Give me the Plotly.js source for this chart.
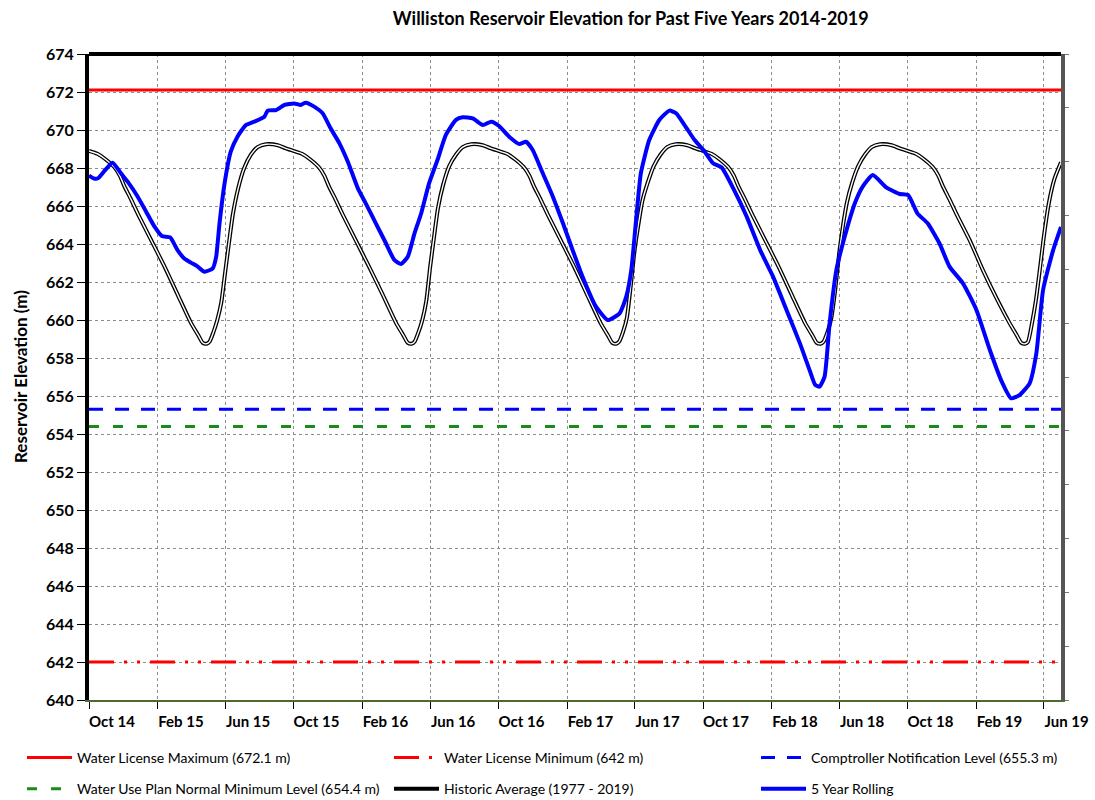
<!DOCTYPE html>
<html>
<head>
<meta charset="utf-8">
<script src="https://cdn.plot.ly/plotly-3.0.1.min.js"></script>
<style>html,body{margin:0;padding:0;background:#fff;}#chart{width:1095px;height:800px;}</style>
</head>
<body>
<div id="chart"></div>
<script>
// ---------------- DATA ----------------
const xRange = ['2014-10-01', '2019-07-02'];

const tickDates = ['2014-10-01','2015-02-01','2015-06-01','2015-10-01','2016-02-01','2016-06-01','2016-10-01',
  '2017-02-01','2017-06-01','2017-10-01','2018-02-01','2018-06-01','2018-10-01','2019-02-01','2019-06-01'];
const tickLabels = ['Oct 14','Feb 15','Jun 15','Oct 15','Feb 16','Jun 16','Oct 16',
  'Feb 17','Jun 17','Oct 17','Feb 18','Jun 18','Oct 18','Feb 19','Jun 19'];

const yTitle = 'Reservoir Elevation (m)';
const chartTitle = 'Williston Reservoir Elevation for Past Five Years 2014-2019';

const licenseMax = 672.1;
const licenseMin = 642;
const comptrollerLevel = 655.3;
const wupMinLevel = 654.4;

const histDates = [
  '2014-10-01','2014-10-16','2014-10-31','2014-11-15','2014-11-25','2014-12-03','2014-12-15','2014-12-27',
  '2015-01-20','2015-02-13','2015-03-08','2015-04-01','2015-04-14','2015-04-22','2015-04-29','2015-05-04',
  '2015-05-11','2015-05-18','2015-05-25','2015-06-01','2015-06-08','2015-06-15','2015-06-24','2015-07-05',
  '2015-07-17','2015-07-29','2015-08-13','2015-09-03','2015-09-16',
  '2015-10-01','2015-10-16','2015-10-31','2015-11-15','2015-11-25','2015-12-03','2015-12-15','2015-12-27',
  '2016-01-20','2016-02-13','2016-03-08','2016-04-01','2016-04-14','2016-04-22','2016-04-29','2016-05-04',
  '2016-05-11','2016-05-18','2016-05-25','2016-06-01','2016-06-08','2016-06-15','2016-06-24','2016-07-05',
  '2016-07-17','2016-07-29','2016-08-13','2016-09-03','2016-09-16',
  '2016-10-01','2016-10-16','2016-10-31','2016-11-15','2016-11-25','2016-12-03','2016-12-15','2016-12-27',
  '2017-01-20','2017-02-13','2017-03-08','2017-04-01','2017-04-14','2017-04-22','2017-04-29','2017-05-04',
  '2017-05-11','2017-05-18','2017-05-25','2017-06-01','2017-06-08','2017-06-15','2017-06-24','2017-07-05',
  '2017-07-17','2017-07-29','2017-08-13','2017-09-03','2017-09-16',
  '2017-10-01','2017-10-16','2017-10-31','2017-11-15','2017-11-25','2017-12-03','2017-12-15','2017-12-27',
  '2018-01-20','2018-02-13','2018-03-08','2018-04-01','2018-04-14','2018-04-22','2018-04-29','2018-05-04',
  '2018-05-11','2018-05-18','2018-05-25','2018-06-01','2018-06-08','2018-06-15','2018-06-24','2018-07-05',
  '2018-07-17','2018-07-29','2018-08-13','2018-09-03','2018-09-16',
  '2018-10-01','2018-10-16','2018-10-31','2018-11-15','2018-11-25','2018-12-03','2018-12-15','2018-12-27',
  '2019-01-20','2019-02-13','2019-03-08','2019-04-01','2019-04-14','2019-04-22','2019-04-29','2019-05-04',
  '2019-05-11','2019-05-18','2019-05-25','2019-06-01','2019-06-10','2019-06-20','2019-07-02'
];
const histValues = [
  668.9,668.75,668.45,668.05,667.6,667.05,666.35,665.6,
  664.2,662.8,661.35,659.85,659.2,658.8,658.75,658.85,
  659.35,660.0,660.9,662.5,664.1,665.6,666.9,668.0,
  668.7,669.1,669.25,669.2,669.05,
  668.9,668.75,668.45,668.05,667.6,667.05,666.35,665.6,
  664.2,662.8,661.35,659.85,659.2,658.8,658.75,658.85,
  659.35,660.0,661.0,662.8,664.4,665.9,667.1,668.1,
  668.7,669.1,669.25,669.2,669.05,
  668.9,668.75,668.45,668.05,667.6,667.05,666.35,665.6,
  664.2,662.8,661.35,659.85,659.2,658.8,658.75,658.85,
  659.35,660.1,661.8,663.7,665.1,666.3,667.2,668.1,
  668.7,669.1,669.25,669.2,669.05,
  668.9,668.75,668.45,668.05,667.6,667.05,666.35,665.6,
  664.2,662.8,661.35,659.85,659.2,658.8,658.75,658.85,
  659.35,660.1,661.6,663.5,665.0,666.2,667.2,668.1,
  668.7,669.1,669.25,669.2,669.05,
  668.9,668.75,668.45,668.05,667.6,667.05,666.35,665.6,
  664.2,662.6,661.2,659.85,659.2,658.8,658.75,658.85,
  659.8,661.0,662.6,664.3,666.1,667.4,668.3
];

const rollDates = [
  '2014-10-01','2014-10-10','2014-10-17','2014-10-29','2014-11-12','2014-11-27','2014-12-09','2014-12-27',
  '2015-01-11','2015-01-26','2015-02-08','2015-02-23','2015-03-08','2015-03-20','2015-04-01','2015-04-13',
  '2015-04-25','2015-05-10','2015-05-16','2015-05-22','2015-05-31','2015-06-11','2015-06-23','2015-07-08',
  '2015-07-23','2015-08-10','2015-08-16','2015-08-31','2015-09-15','2015-10-02','2015-10-14','2015-10-23',
  '2015-11-07','2015-11-22','2015-12-06','2015-12-22','2016-01-06','2016-01-24','2016-02-07','2016-02-25',
  '2016-03-14','2016-03-29','2016-04-10','2016-04-22','2016-05-04','2016-05-16','2016-05-30','2016-06-14',
  '2016-06-29','2016-07-17','2016-07-29','2016-08-16','2016-09-03','2016-09-18','2016-10-02','2016-10-20',
  '2016-11-07','2016-11-19','2016-12-01','2016-12-19','2017-01-06','2017-01-24','2017-02-10','2017-02-28',
  '2017-03-24','2017-04-14','2017-05-05','2017-05-17','2017-05-26','2017-06-03','2017-06-12','2017-06-27',
  '2017-07-15','2017-08-02','2017-08-14','2017-08-29','2017-09-16','2017-10-04','2017-10-19','2017-11-03',
  '2017-11-24','2017-12-18','2018-01-11','2018-02-03','2018-02-27','2018-03-23','2018-04-10','2018-04-19',
  '2018-04-27','2018-05-06','2018-05-15','2018-05-27','2018-06-11','2018-06-29','2018-07-13','2018-07-31',
  '2018-08-24','2018-09-17','2018-10-02','2018-10-19','2018-11-06','2018-11-27','2018-12-15','2019-01-08',
  '2019-02-01','2019-02-25','2019-03-17','2019-04-04','2019-04-19','2019-05-07','2019-05-19','2019-05-31',
  '2019-06-18','2019-07-02'
];
const rollValues = [
  667.6,667.45,667.46,667.86,668.28,667.72,667.28,666.49,
  665.7,664.91,664.42,664.35,663.68,663.24,663.02,662.81,
  662.54,662.72,663.33,665.09,667.19,668.86,669.65,670.26,
  670.44,670.7,671.02,671.05,671.32,671.4,671.32,671.44,
  671.23,670.88,670.1,669.3,668.33,666.93,666.14,665.09,
  664.04,663.16,662.95,663.33,664.56,665.62,667.19,668.42,
  669.74,670.53,670.67,670.61,670.26,670.44,670.21,669.65,
  669.26,669.38,668.95,667.72,666.49,665.09,663.7,662.28,
  660.7,660.0,660.35,661.23,662.63,665.09,667.72,669.47,
  670.53,671.02,670.88,670.26,669.47,668.86,668.25,668.04,
  666.93,665.44,663.68,662.28,660.53,658.77,657.3,656.6,
  656.49,657.02,659.83,662.63,664.39,666.14,667.02,667.63,
  666.98,666.63,666.58,665.6,665.09,664.04,662.81,661.93,
  660.53,658.42,656.84,655.88,656.05,656.67,658.25,661.58,
  663.68,664.9
];

// ---------------- CHART ----------------
const FONT = 'Lato, "Open Sans", "DejaVu Sans", sans-serif';

const traces = [
  {x: xRange, y: [licenseMax, licenseMax], mode: 'lines', name: 'Water License Maximum (672.1 m)',
   line: {color: '#ff0000', width: 3}, legend: 'legend', legendgroup: 'a', legendrank: 1},
  {x: xRange, y: [wupMinLevel, wupMinLevel], mode: 'lines', name: 'Water Use Plan Normal Minimum Level (654.4 m)',
   line: {color: '#1a8a1a', width: 3, dash: '10px,14px'}, legend: 'legend', legendgroup: 'b', legendrank: 2},
  {x: xRange, y: [licenseMin, licenseMin], mode: 'lines', name: 'Water License Minimum (642 m)',
   line: {color: '#ff0000', width: 3, dash: '25px,10px,3px,10px,3px,10px'}, legend: 'legend2', legendgroup: 'c', legendrank: 1},
  {x: xRange, y: [comptrollerLevel, comptrollerLevel], mode: 'lines', name: 'Comptroller Notification Level (655.3 m)',
   line: {color: '#0000ff', width: 3, dash: '14px,12px'}, legend: 'legend3', legendgroup: 'e', legendrank: 1},
  {x: histDates, y: histValues, mode: 'lines', name: 'Historic Average (1977 - 2019)',
   line: {color: '#000000', width: 4, shape: 'spline', smoothing: 0.6}, legend: 'legend2', legendgroup: 'd', legendrank: 2},
  {x: histDates, y: histValues, mode: 'lines', showlegend: false, hoverinfo: 'skip',
   line: {color: '#ffffff', width: 1.4, shape: 'spline', smoothing: 0.6}},
  {x: rollDates, y: rollValues, mode: 'lines', name: '5 Year Rolling',
   line: {color: '#0000ff', width: 4, shape: 'spline', smoothing: 0.5}, legend: 'legend3', legendgroup: 'f', legendrank: 2},
  {x: [], y: [], yaxis: 'y2', showlegend: false, hoverinfo: 'skip', mode: 'lines'}
];

const legendBase = {
  xref: 'container', yref: 'container', xanchor: 'left', yanchor: 'top',
  orientation: 'v', traceorder: 'grouped', tracegroupgap: 10, itemwidth: 45,
  font: {family: FONT, size: 14, color: '#000'}, bgcolor: 'rgba(0,0,0,0)', borderwidth: 0
};

const layout = {
  width: 1095, height: 800,
  paper_bgcolor: '#ffffff', plot_bgcolor: '#ffffff',
  margin: {l: 89, r: 34, t: 54, b: 100, autoexpand: false},
  font: {family: FONT, color: '#000'},
  showlegend: true,
  title: {text: chartTitle,
          font: {family: FONT, size: 18, weight: 'bold', color: '#000'},
          xref: 'container', x: 0.576, xanchor: 'center', yref: 'container', y: 0.977, yanchor: 'middle'},
  xaxis: {type: 'date', range: xRange, tickmode: 'array', tickvals: tickDates, ticktext: tickLabels,
          ticks: 'outside', ticklen: 7, tickwidth: 1, tickcolor: '#000',
          showgrid: true, gridcolor: '#8c8c8c', griddash: 'dot', gridwidth: 1,
          showline: true, linecolor: '#4e6b30', linewidth: 2, zeroline: false,
          ticklabelshift: 23, tickangle: 0, automargin: false,
          tickfont: {family: FONT, size: 15, weight: 'bold', color: '#000'}},
  yaxis: {range: [640, 674], tick0: 640, dtick: 2, ticks: 'outside', ticklen: 8, tickwidth: 1, tickcolor: '#000',
          showgrid: true, gridcolor: '#8c8c8c', griddash: 'dot', gridwidth: 1,
          showline: true, linecolor: '#000', linewidth: 4, zeroline: false, automargin: false,
          tickfont: {family: FONT, size: 16, weight: 'bold', color: '#000'}},
  yaxis2: {overlaying: 'y', side: 'right', range: [0, 12], dtick: 1, ticks: 'outside', ticklen: 4,
           tickcolor: '#777', showticklabels: false, showgrid: false, zeroline: false, automargin: false,
           showline: true, linecolor: '#555', linewidth: 4},
  annotations: [
    {text: yTitle, xref: 'paper', yref: 'paper', x: -69/972, y: 0.5, xanchor: 'center', yanchor: 'middle',
     textangle: -90, showarrow: false, font: {family: FONT, size: 17, weight: 'bold', color: '#000'}}
  ],
  shapes: [
    {type: 'line', xref: 'paper', yref: 'paper', x0: 0, x1: 1, y0: 1, y1: 1, line: {color: '#000', width: 4}}
  ],
  legend: Object.assign({}, legendBase, {x: 22/1095, y: 1 - 742/800}),
  legend2: Object.assign({}, legendBase, {x: 389/1095, y: 1 - 742/800}),
  legend3: Object.assign({}, legendBase, {x: 756/1095, y: 1 - 742/800})
};

Plotly.newPlot('chart', traces, layout, {staticPlot: true, displayModeBar: false});
</script>
</body>
</html>
